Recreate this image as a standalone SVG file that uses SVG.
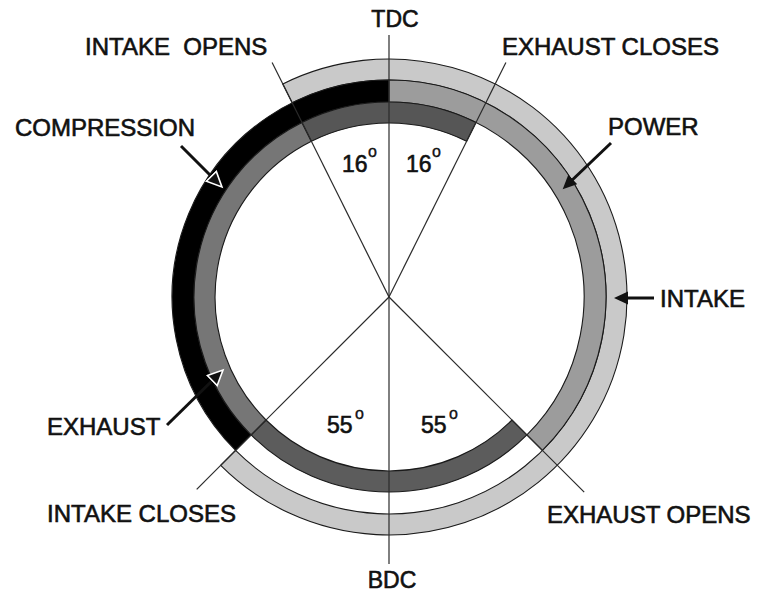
<svg xmlns="http://www.w3.org/2000/svg" width="766" height="592" viewBox="0 0 766 592">
<style>
  .lbl{font-family:"Liberation Sans",Arial,Helvetica,sans-serif;font-size:24px;fill:#111;stroke:#111;stroke-width:0.6px;}
  .deg{font-family:"Liberation Sans",Arial,Helvetica,sans-serif;font-size:23px;fill:#111;stroke:#111;stroke-width:0.6px;}
  .sup{font-family:"Liberation Sans",Arial,Helvetica,sans-serif;font-size:16px;fill:#111;stroke:#111;stroke-width:0.4px;}
  .band{stroke:#1a1a1a;stroke-width:1.1;}
  .radial{stroke:#2a2a2a;stroke-width:1.2;fill:none;}
  .arrow{stroke:#111;stroke-width:3;fill:none;}
</style>
<defs>
  <marker id="head" markerUnits="userSpaceOnUse" markerWidth="18" markerHeight="18" refX="8" refY="6.5" orient="auto">
    <path d="M0,0 L14,6.5 L0,13 Z" fill="#111"/>
  </marker>
  <marker id="headw" markerUnits="userSpaceOnUse" markerWidth="20" markerHeight="20" refX="9" refY="8" orient="auto">
    <path d="M1,1 L16,8 L1,15 Z" fill="#111" stroke="#fff" stroke-width="1.6"/>
  </marker>
</defs>
<rect width="766" height="592" fill="#fff"/>

<g id="intake-band"><path class="band" fill="#c9c9c9" d="M282.8,84.0 A238,238 0 1 1 220.7,465.3 L235.6,450.4 A217,217 0 1 0 292.2,102.8 Z"/></g>
<g id="compression-band"><path class="band" fill="#000" d="M235.6,450.4 A217,217 0 0 1 389,80 L389,102 A195,195 0 0 0 251.1,434.9 Z"/></g>
<g id="power-band"><path class="band" fill="#9c9c9c" d="M389,80 A217,217 0 0 1 542.4,450.4 L526.9,434.9 A195,195 0 0 0 389,102 Z"/></g>
<g id="exhaust-band">
  <path class="band" fill="#5c5c5c" d="M526.9,434.9 A195,195 0 0 1 251.1,434.9 L266.0,420.0 A174,174 0 0 0 512.0,420.0 Z"/>
  <path class="band" fill="#767676" d="M251.1,434.9 A195,195 0 0 1 302.0,122.5 L311.4,141.3 A174,174 0 0 0 266.0,420.0 Z"/>
  <path class="band" fill="#565656" d="M302.0,122.5 A195,195 0 0 1 476.0,122.5 L466.6,141.3 A174,174 0 0 0 311.4,141.3 Z"/>
</g>

<g id="connectors">
  <line class="radial" x1="389" y1="35" x2="389" y2="564"/>
  <line class="radial" x1="389" y1="297" x2="272.1" y2="62.5"/>
  <line class="radial" x1="389" y1="297" x2="505.9" y2="62.5"/>
  <line class="radial" x1="389" y1="297" x2="196.7" y2="489.3"/>
  <line class="radial" x1="389" y1="297" x2="584.2" y2="492.2"/>
  <line class="arrow" x1="181" y1="146" x2="217" y2="182" marker-end="url(#headw)"/>
  <line class="arrow" x1="167" y1="425" x2="218" y2="375" marker-end="url(#headw)"/>
  <line class="arrow" x1="611" y1="143" x2="567" y2="185" marker-end="url(#head)"/>
  <line class="arrow" x1="654" y1="298" x2="620" y2="298" marker-end="url(#head)"/>
</g>

<g id="tdc"><text class="lbl" x="395" y="27" text-anchor="middle" style="font-size:23px">TDC</text></g>
<g id="bdc"><text class="lbl" x="392" y="588" text-anchor="middle" style="font-size:23px">BDC</text></g>
<g id="intake-opens"><text class="lbl" x="85" y="55" style="white-space:pre">INTAKE  OPENS</text></g>
<g id="exhaust-closes"><text class="lbl" x="502" y="55">EXHAUST CLOSES</text></g>
<g id="compression"><text class="lbl" x="15" y="136">COMPRESSION</text></g>
<g id="power"><text class="lbl" x="608" y="135">POWER</text></g>
<g id="intake"><text class="lbl" x="660" y="307">INTAKE</text></g>
<g id="exhaust"><text class="lbl" x="47" y="435">EXHAUST</text></g>
<g id="intake-closes"><text class="lbl" x="47" y="522">INTAKE CLOSES</text></g>
<g id="exhaust-opens"><text class="lbl" x="547" y="523">EXHAUST OPENS</text></g>
<g id="angle-16-left"><text class="deg" x="342" y="172">16</text><text class="sup" x="368" y="157">o</text></g>
<g id="angle-16-right"><text class="deg" x="406" y="172">16</text><text class="sup" x="432" y="157">o</text></g>
<g id="angle-55-left"><text class="deg" x="327" y="433">55</text><text class="sup" x="355" y="419">o</text></g>
<g id="angle-55-right"><text class="deg" x="421" y="433">55</text><text class="sup" x="449" y="419">o</text></g>
</svg>
